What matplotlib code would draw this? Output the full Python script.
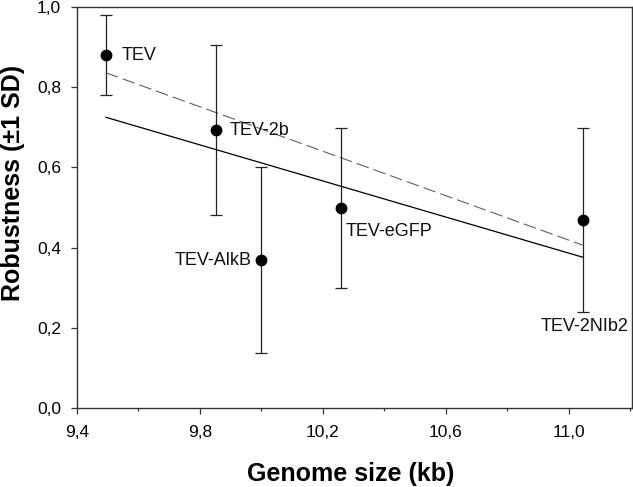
import matplotlib
matplotlib.use("Agg")
import matplotlib.pyplot as plt
from matplotlib.ticker import FuncFormatter, FixedLocator

# -----------------------------
# Data
# -----------------------------
names = ["TEV", "TEV-2b", "TEV-AlkB", "TEV-eGFP", "TEV-2NIb2"]
genome_kb = [9.494, 9.852, 10.0, 10.259, 11.045]
robustness = [0.880, 0.693, 0.369, 0.500, 0.470]
err_low = [0.100, 0.212, 0.231, 0.200, 0.231]
err_high = [0.100, 0.212, 0.232, 0.199, 0.229]

# regression lines (end points)
fit_x = [9.494, 11.045]
fit_solid = [0.725, 0.376]
fit_dashed = [0.836, 0.406]

# axis ticks
x_major = [9.4, 9.8, 10.2, 10.6, 11.0]
x_minor = [9.6, 10.0, 10.4, 10.8, 11.2]
y_major = [0.0, 0.2, 0.4, 0.6, 0.8, 1.0]

# label offsets in points (dx, dy, ha)
label_pos = [(11.5, 0, "left"), (10, 0, "left"), (-7, 0, "right"),
             (3, -17, "left"), (1.5, -77, "center")]

plt.rcParams["font.family"] = ["Liberation Sans", "DejaVu Sans"]

fig = plt.figure(figsize=(6.33, 4.87), dpi=100)
ax = fig.add_axes([0.1216, 0.1622, 0.8768, 0.8234])

ax.plot(fit_x, fit_dashed, color="#606060", lw=0.8, dashes=(11.5, 4.5))
ax.plot(fit_x, fit_solid, color="black", lw=0.9)

ax.errorbar(genome_kb, robustness, yerr=[err_low, err_high], fmt="o",
            color="black", ecolor="#222222", elinewidth=0.9, capsize=4.3,
            capthick=0.9, markersize=7.5, zorder=3)

for name, x, y, (dx, dy, ha) in zip(names, genome_kb, robustness, label_pos):
    ax.annotate(name, (x, y), xytext=(dx, dy), textcoords="offset points",
                ha=ha, va="center", fontsize=13, color="#111111")

ax.set_xlim(9.4, 11.205)
ax.set_ylim(0, 1.0)
ax.xaxis.set_major_locator(FixedLocator(x_major))
ax.xaxis.set_minor_locator(FixedLocator(x_minor))
ax.yaxis.set_major_locator(FixedLocator(y_major))

comma = FuncFormatter(lambda v, p: f"{v:.1f}".replace(".", ","))
ax.xaxis.set_major_formatter(comma)
ax.yaxis.set_major_formatter(comma)

for s in ax.spines.values():
    s.set_color("#333333")
    s.set_linewidth(1.0)

ax.tick_params(which="major", direction="out", length=4, width=0.9,
               color="#333333", labelsize=12.5)
ax.tick_params(axis="x", which="major", pad=8)
ax.tick_params(axis="y", which="major", pad=7.5)
ax.tick_params(which="minor", direction="out", length=2.3, width=0.9,
               color="#333333")

ax.set_xlabel("Genome size (kb)", fontsize=18, fontweight="bold", va="center")
ax.set_ylabel("Robustness (±1 SD)", fontsize=18, fontweight="bold", va="center")
ax.xaxis.set_label_coords(0.493, -0.165)
ax.yaxis.set_label_coords(-0.116, 0.562)

fig.savefig("out.png", dpi=100)
plt.close(fig)
